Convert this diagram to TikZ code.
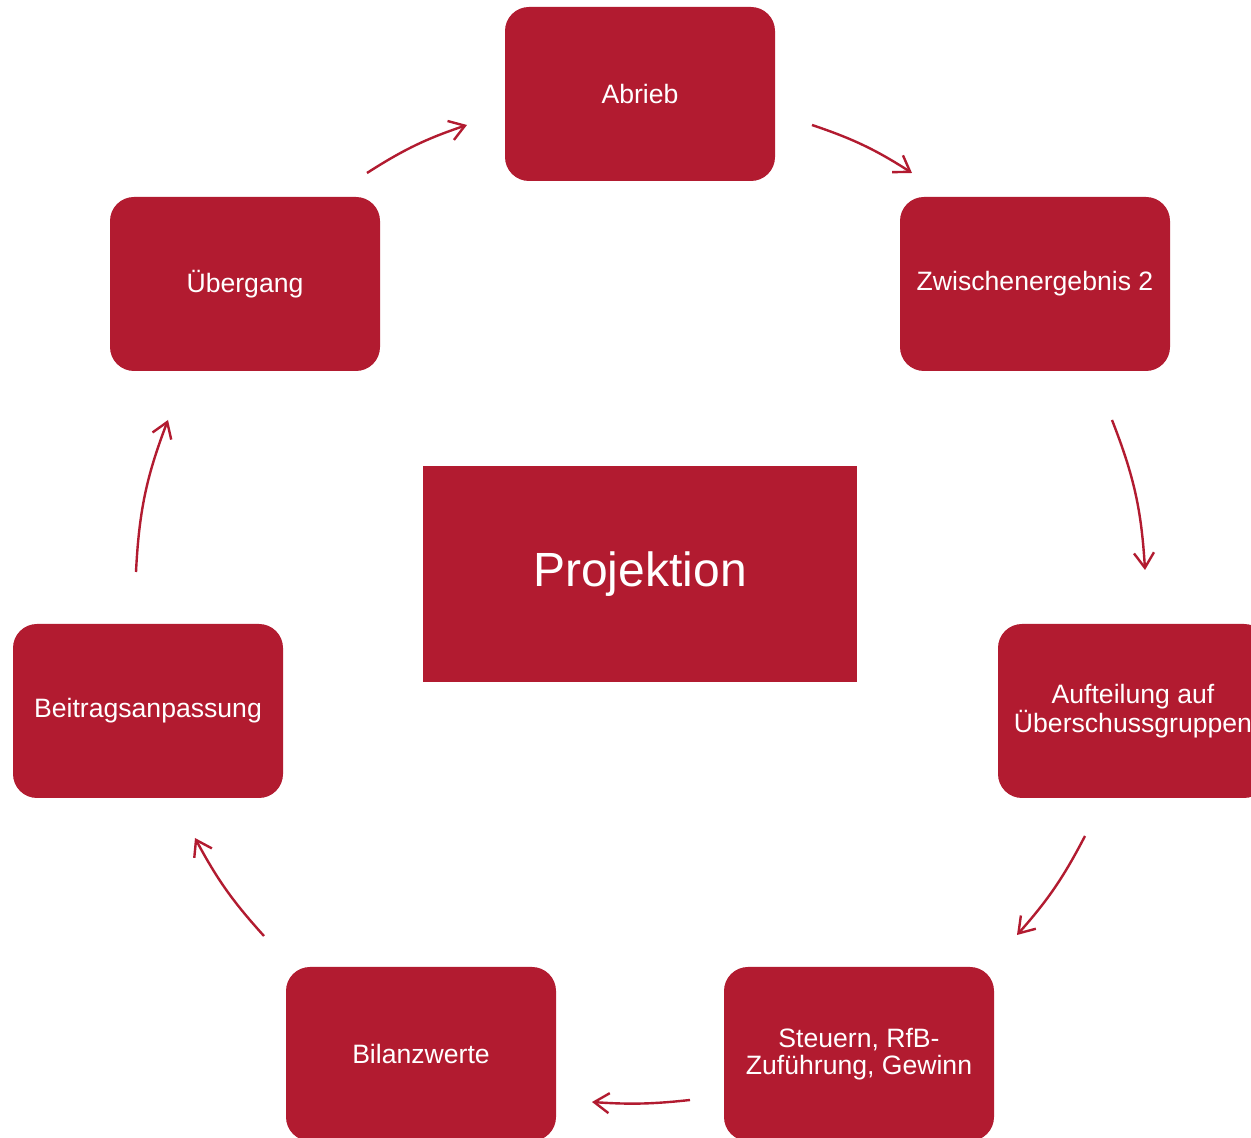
\documentclass[tikz,border=0pt]{standalone}
\usepackage{fontspec}
\setmainfont{Liberation Sans}
\usetikzlibrary{arrows.meta}
\definecolor{boxred}{RGB}{178,27,48}
\begin{document}
\begin{tikzpicture}[x=1pt,y=1pt,
  stepbox/.style={fill=boxred, draw=none, rounded corners=24pt, minimum width=270pt, minimum height=174pt, inner sep=0pt, text=white, align=center, font=\fontsize{26.6}{27.5}\selectfont},
  centerbox/.style={fill=boxred, draw=none, minimum width=434pt, minimum height=216pt, inner sep=0pt, text=white, font=\fontsize{48}{52}\selectfont},
  cyclearrow/.style={draw=boxred, line width=2.4pt, -{Straight Barb[length=15pt,width=20pt,line width=2.4pt]}}]
\clip (0,0) rectangle (1251,1138);
\fill[white] (0,0) rectangle (1251,1138);
\node[stepbox] (abrieb) at (640,1044) {Abrieb};
\node[stepbox] (zwischen) at (1035,854) {Zwischenergebnis 2};
\node[stepbox] (aufteilung) at (1133,427) {Aufteilung auf\\Überschussgruppen};
\node[stepbox] (steuern) at (859,84) {Steuern, RfB-\\Zuführung, Gewinn};
\node[stepbox] (bilanz) at (421,84) {Bilanzwerte};
\node[stepbox] (beitrag) at (148,427) {Beitragsanpassung};
\node[stepbox] (uebergang) at (245,854) {Übergang};
\node[centerbox] (projektion) at (640,564) {Projektion};
\coordinate (a1s) at (367,965); \coordinate (a1e) at (467,1013);
\coordinate (a2s) at (812,1013); \coordinate (a2e) at (912,965);
\coordinate (a3s) at (1112,718); \coordinate (a3e) at (1145,568);
\coordinate (a4s) at (1085,302); \coordinate (a4e) at (1017,203);
\coordinate (a5s) at (690,38); \coordinate (a5e) at (592,36);
\coordinate (a6s) at (264,202); \coordinate (a6e) at (195,300);
\coordinate (a7s) at (136,566); \coordinate (a7e) at (168,718);
\draw[cyclearrow] (a1s) to[bend left=7] (a1e);
\draw[cyclearrow] (a2s) to[bend left=7] (a2e);
\draw[cyclearrow] (a3s) to[bend left=9] (a3e);
\draw[cyclearrow] (a4s) to[bend left=7] (a4e);
\draw[cyclearrow] (a5s) to[bend left=5] (a5e);
\draw[cyclearrow] (a6s) to[bend left=7] (a6e);
\draw[cyclearrow] (a7s) to[bend left=9] (a7e);
\end{tikzpicture}
\end{document}
